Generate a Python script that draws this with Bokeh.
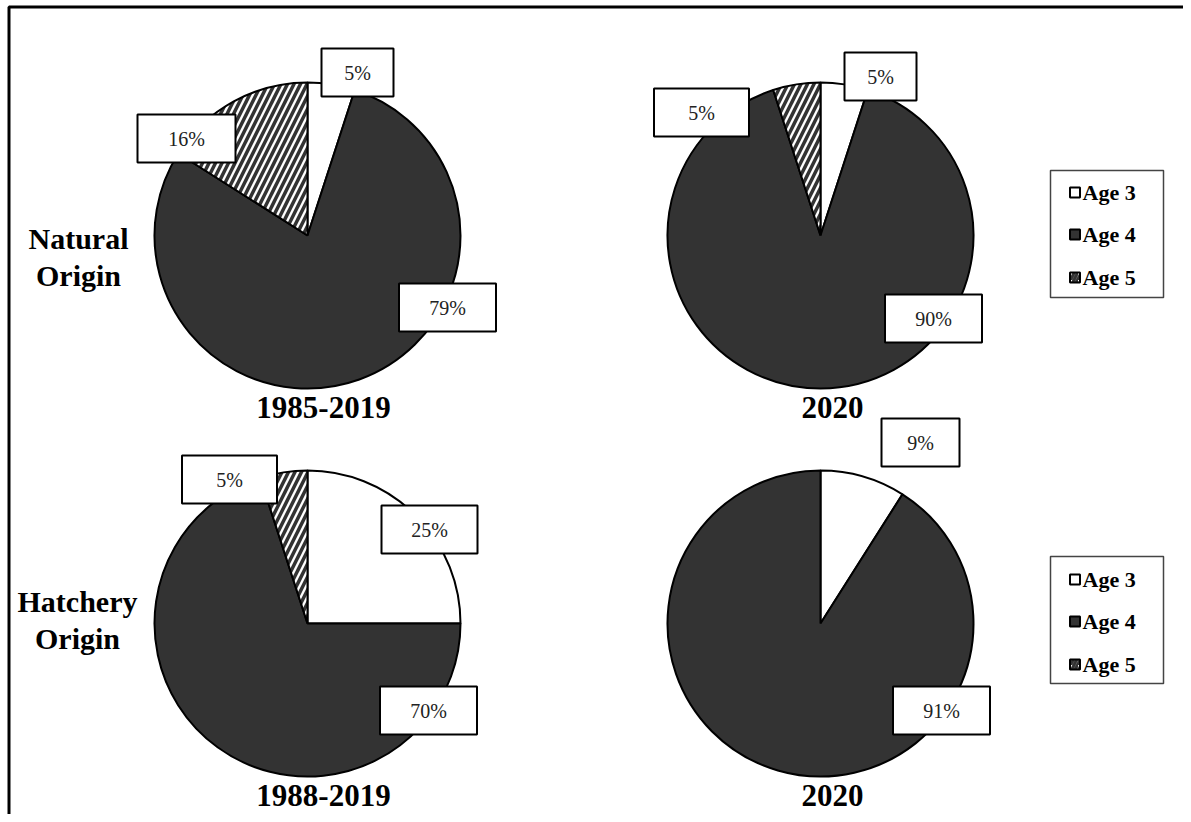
import math
from bokeh.plotting import figure
from bokeh.models import Range1d
from bokeh.core.properties import value
from bokeh.embed import file_html
from bokeh.resources import INLINE

# ---------------- data ----------------
categories = ["Age 3", "Age 4", "Age 5"]
natural_1985_2019 = [5, 79, 16]
natural_2020 = [5, 90, 5]
hatchery_1988_2019 = [25, 70, 5]
hatchery_2020 = [9, 91, 0]
pie_titles = ["1985-2019", "2020", "1988-2019", "2020"]
row_label_lines = [["Natural", "Origin"], ["Hatchery", "Origin"]]

# ---------------- layout (picture pixel coords) ----------------
W, H = 1183, 814
OX, OY = 0, 0
FONT = "Liberation Serif"
DARK = "#333333"
R = 153


def X(x):
    return x - OX


def Y(y):
    return H - (y - OY)


pies = [
    dict(vals=natural_1985_2019, c=(307, 235), title=(323, 407),
         labels=[(357, 72, 72), (447, 307, 97), (186, 138, 98)]),
    dict(vals=natural_2020, c=(820, 235), title=(832, 407),
         labels=[(880, 76, 72), (933, 318, 97), (701, 112, 95)]),
    dict(vals=hatchery_1988_2019, c=(307, 623), title=(323, 795),
         labels=[(429, 529, 96), (428, 710, 97), (229, 479, 95)]),
    dict(vals=hatchery_2020, c=(820, 623), title=(832, 795),
         labels=[(920, 442, 78), (941, 710, 97), None]),
]
row_label_pos = [[(78, 238), (78, 275)], [(77, 601), (77, 638)]]
legend_boxes = [(170, [192, 234, 277]), (556, [579, 621, 664])]

fills = ["white", DARK, "white"]
hatches = [" ", " ", "/"]

p = figure(width=W, height=H, x_range=Range1d(0, W), y_range=Range1d(0, H),
           output_backend="svg", toolbar_location=None, min_border=0)
p.axis.visible = False
p.grid.visible = False
p.outline_line_color = None
p.background_fill_color = "white"
p.border_fill_color = "white"

# outer frame (left and top edges visible)
p.line(x=[X(8.5), X(8.5), W + 20], y=[-20, Y(6.5), Y(6.5)],
       line_color="black", line_width=3)

for pie in pies:
    cx, cy = pie["c"]
    vals = pie["vals"]
    total = float(sum(vals))
    cum = 0.0
    for i, v in enumerate(vals):
        if v <= 0:
            continue
        a0 = 90 - cum / total * 360
        cum += v
        a1 = 90 - cum / total * 360
        p.wedge(x=[X(cx)], y=[Y(cy)], radius=R,
                start_angle=math.radians(a0), end_angle=math.radians(a1),
                direction="clock", fill_color=fills[i],
                hatch_pattern=hatches[i], hatch_color=DARK,
                hatch_weight=3.5, hatch_scale=13,
                line_color="black", line_width=2)
    for i, v in enumerate(vals):
        lab = pie["labels"][i]
        if lab is None or v <= 0:
            continue
        lx, ly, lw = lab
        p.rect(x=[X(lx)], y=[Y(ly)], width=lw, height=48,
               fill_color="white", line_color="black", line_width=2)
        p.text(x=[X(lx)], y=[Y(ly)], text=[f"{v}%"], text_align="center",
               text_baseline="middle", text_font=value(FONT),
               text_font_size="20px", text_color="#222222")

for (tx, ty), t in zip([pp["title"] for pp in pies], pie_titles):
    p.text(x=[X(tx)], y=[Y(ty)], text=[t], text_align="center",
           text_baseline="middle", text_font=value(FONT),
           text_font_size="31px", text_font_style="bold", text_color="black")

for lines, poss in zip(row_label_lines, row_label_pos):
    for line, (lx, ly) in zip(lines, poss):
        p.text(x=[X(lx)], y=[Y(ly)], text=[line], text_align="center",
               text_baseline="middle", text_font=value(FONT),
               text_font_size="30px", text_font_style="bold", text_color="black")

# legends
for top, ys in legend_boxes:
    p.rect(x=[X(1106.5)], y=[Y(top + 63.5)], width=113, height=127,
           fill_color="white", line_color="#444444", line_width=1.5)
    for i, (cat, ly) in enumerate(zip(categories, ys)):
        p.rect(x=[X(1074.5)], y=[Y(ly)], width=10, height=10,
               fill_color=fills[i], line_color="black", line_width=2,
               hatch_pattern=hatches[i], hatch_color=DARK,
               hatch_weight=3, hatch_scale=7)
        p.text(x=[X(1082)], y=[Y(ly)], text=[cat], text_align="left",
               text_baseline="middle", text_font=value(FONT),
               text_font_size="22px", text_font_style="bold", text_color="black")

open("out.html", "w").write(file_html(p, INLINE))
